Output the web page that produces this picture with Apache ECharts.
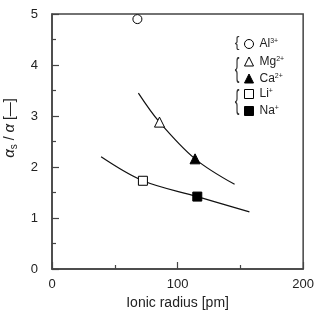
<!DOCTYPE html>
<html>
<head>
<meta charset="utf-8">
<script src="https://cdn.jsdelivr.net/npm/echarts@6/dist/echarts.min.js"></script>
<style>
  html, body { margin: 0; padding: 0; background: #fff; }
  #chart { width: 317px; height: 321px; }
</style>
</head>
<body>
<div id="chart"></div>
<script>
// measured points (ionic radius in pm, alpha_s / alpha)
const ions = ['Al', 'Mg', 'Ca', 'Li', 'Na'];
const charges = ['3+', '2+', '2+', '+', '+'];
const radii = [68, 85.6, 113.9, 72.4, 115.7];
const ratios = [4.9, 2.88, 2.16, 1.73, 1.42];
const symbols = ['circle', 'triangle', 'triangle', 'rect', 'rect'];
const filled = [false, false, true, false, true];

// fitted curves
const divalentX = [68.8, 85.6, 113.9, 145.4];
const divalentY = [3.45, 2.88, 2.16, 1.66];
const monovalentX = [39.1, 72.4, 115.7, 157.2];
const monovalentY = [2.2, 1.73, 1.42, 1.12];

const xTicks = [0, 100, 200];
const yTicks = [0, 1, 2, 3, 4, 5];

const font = 'Liberation Sans, Arial, sans-serif';
const ink = '#222';
const frame = '#444';

let myChart = echarts.init(document.getElementById('chart'));

const zip = (xs, ys) => xs.map((x, i) => [x, ys[i]]);

const lineSeries = [
  { x: divalentX, y: divalentY },
  { x: monovalentX, y: monovalentY },
].map((c) => ({
  type: 'line',
  data: zip(c.x, c.y),
  smooth: 0.35,
  showSymbol: false,
  silent: true,
  lineStyle: { color: '#111', width: 1.2 },
  z: 1,
}));

const pointSeries = ions.map((ion, i) => ({
  name: ion,
  type: 'scatter',
  data: [[radii[i], ratios[i]]],
  symbol: symbols[i],
  symbolSize: symbols[i] === 'triangle' ? 10 : 9,
  itemStyle: {
    color: filled[i] ? '#000' : '#fff',
    borderColor: '#000',
    borderWidth: 1,
    opacity: 1,
  },
  z: 3,
}));

const legendBase = {
  orient: 'vertical',
  left: 244,
  padding: 0,
  itemWidth: 9,
  itemHeight: 9,
  itemGap: 5,
  selectedMode: false,
  icon: null,
  itemStyle: { borderWidth: 1 },
  formatter: (name) => '{b|' + name + '}{sup|' + charges[ions.indexOf(name)] + '}',
  textStyle: {
    fontFamily: font,
    color: ink,
    padding: [0, 0, 0, 1],
    rich: {
      b: { fontSize: 12, lineHeight: 12, fontFamily: font, color: ink },
      sup: { fontSize: 7, verticalAlign: 'top', fontFamily: font, color: ink },
    },
  },
};

const braces = [
  { y: 43.5, s: 1.0 },
  { y: 69, s: 1.95 },
  { y: 101, s: 1.95 },
].map((b) => ({
  type: 'text',
  x: 237,
  y: b.y,
  scaleY: b.s,
  style: {
    text: '{',
    font: '14px ' + font,
    fill: '#333',
    align: 'center',
    verticalAlign: 'middle',
  },
}));

this_option = {
  animation: false,
  grid: {
    left: 52,
    top: 14,
    right: 11,
    bottom: 52,
    show: true,
    borderColor: frame,
    borderWidth: 1.5,
  },
  xAxis: {
    type: 'value',
    min: xTicks[0],
    max: xTicks[xTicks.length - 1],
    interval: 100,
    name: 'Ionic radius [pm]',
    nameLocation: 'middle',
    nameGap: 25,
    nameTextStyle: { fontFamily: font, fontSize: 14, color: ink },
    axisLine: { show: true, lineStyle: { color: frame, width: 1.5 } },
    axisTick: { show: true, inside: true, length: 7, lineStyle: { color: frame, width: 1.2 } },
    minorTick: { show: true, splitNumber: 2, length: 4, lineStyle: { color: frame, width: 1.2 } },
    splitLine: { show: false },
    axisLabel: { fontFamily: font, fontSize: 13, color: ink, margin: 9 },
  },
  yAxis: {
    type: 'value',
    min: yTicks[0],
    max: yTicks[yTicks.length - 1],
    interval: 1,
    axisLine: { show: true, lineStyle: { color: frame, width: 1.5 } },
    axisTick: { show: true, inside: true, length: 7, lineStyle: { color: frame, width: 1.2 } },
    minorTick: { show: true, splitNumber: 2, length: 4, lineStyle: { color: frame, width: 1.2 } },
    splitLine: { show: false },
    axisLabel: { fontFamily: font, fontSize: 13, color: ink, margin: 14 },
  },
  legend: [
    Object.assign({}, legendBase, { top: 38, data: [{ name: 'Al', icon: 'circle' }] }),
    Object.assign({}, legendBase, { top: 55.5, data: [{ name: 'Mg', icon: 'triangle' }, { name: 'Ca', icon: 'triangle' }] }),
    Object.assign({}, legendBase, { top: 88, data: [{ name: 'Li', icon: 'rect' }, { name: 'Na', icon: 'rect' }] }),
  ],
  graphic: braces.concat([
    {
      type: 'text',
      x: 10,
      y: 128,
      rotation: Math.PI / 2,
      style: {
        text: '{a|α}{s|s}{b| / }{a|α}{b| [—]}',
        align: 'center',
        verticalAlign: 'middle',
        rich: {
          a: { fontFamily: font, fontSize: 15, fontStyle: 'italic', fill: ink, lineHeight: 18 },
          s: { fontFamily: font, fontSize: 10, fill: ink, verticalAlign: 'bottom' },
          b: { fontFamily: font, fontSize: 14, fill: ink, lineHeight: 18 },
        },
      },
    },
  ]),
  series: lineSeries.concat(pointSeries),
};

myChart.setOption(this_option, true);
window.addEventListener('resize', () => {
  myChart.resize();
});
</script>
</body>
</html>
